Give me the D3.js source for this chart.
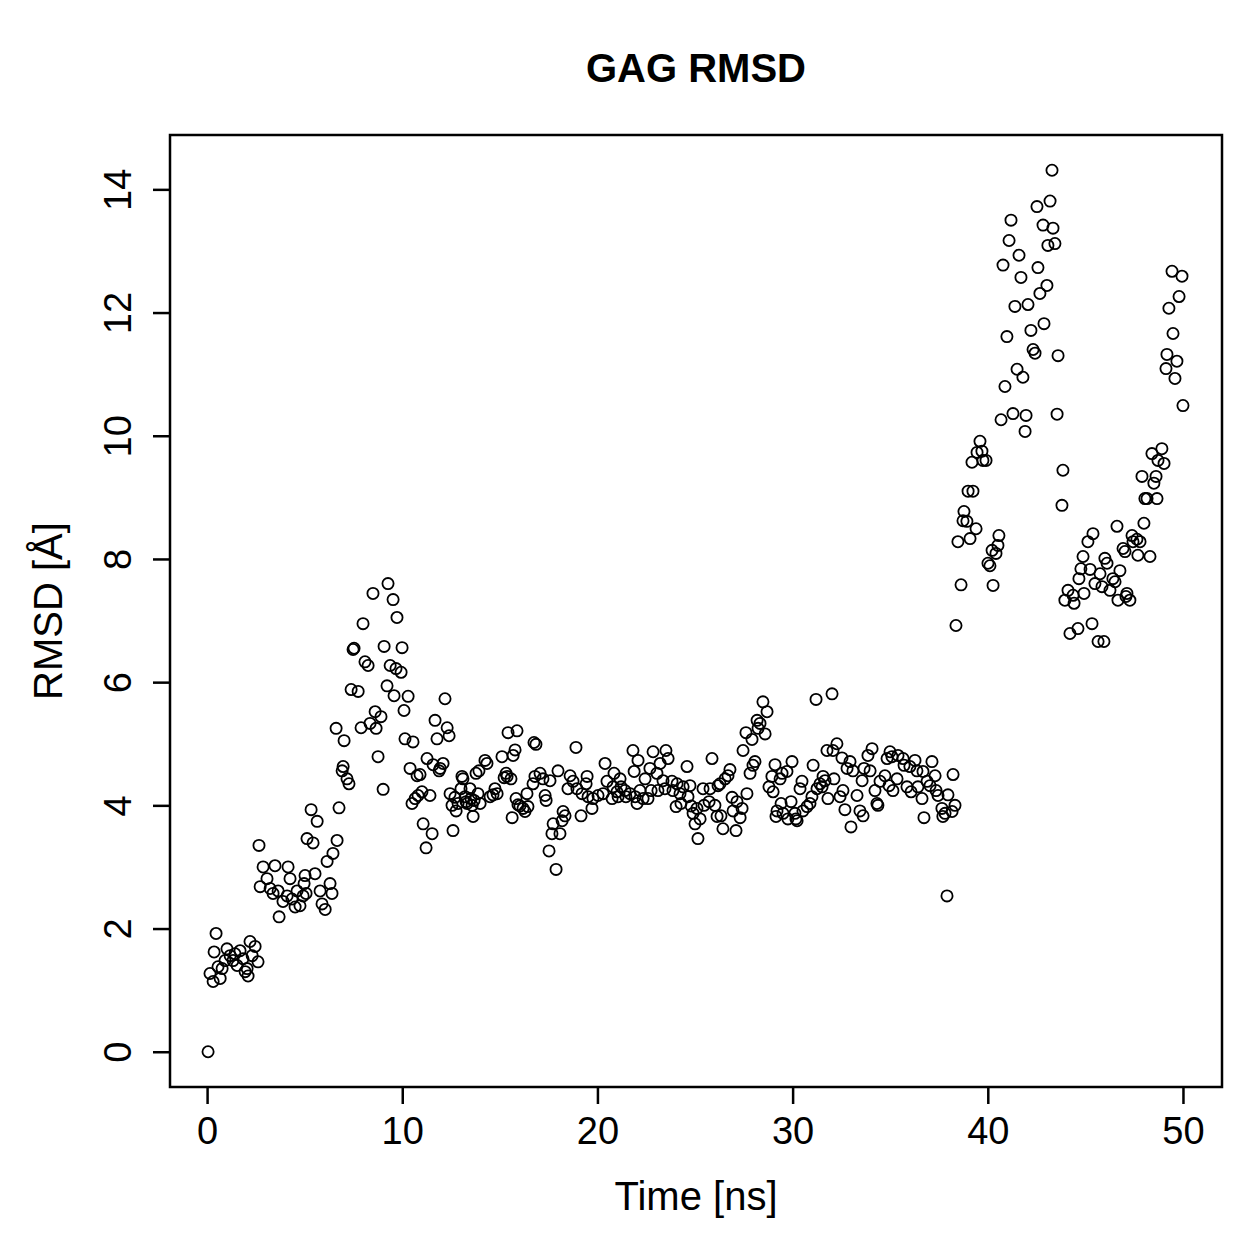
<!DOCTYPE html>
<html>
<head>
<meta charset="utf-8">
<script src="https://cdn.jsdelivr.net/npm/d3@7"></script>
<style>
  body { margin: 0; background: #fff; }
  svg { display: block; font-family: "Liberation Sans", Arial, sans-serif; }
</style>
</head>
<body>
<div id="chart"></div>
<script>
// === Data: [time (ns), RMSD (Å)] ===
const samples = [
  [0.05,0.00],[0.15,1.27],[0.31,1.14],[0.36,1.62],[0.46,1.92],[0.56,1.38],[0.67,1.19],[0.77,1.35],
  [0.92,1.48],[1.02,1.67],[1.18,1.56],[1.33,1.48],[1.43,1.59],[1.54,1.40],[1.69,1.64],[1.84,1.51],
  [1.95,1.30],[2.05,1.35],[2.10,1.23],[2.20,1.79],[2.31,1.56],[2.46,1.71],[2.61,1.46],
  [2.66,3.35],[2.72,2.68],[2.87,3.00],[3.07,2.81],[3.23,2.65],[3.38,2.57],[3.48,3.02],[3.64,2.61],
  [3.69,2.19],[3.89,2.44],[4.10,2.53],[4.15,3.00],[4.25,2.81],[4.35,2.48],[4.51,2.35],[4.61,2.61],
  [4.76,2.37],[4.92,2.53],[4.97,2.73],[5.02,2.86],[5.07,2.57],[5.12,3.46],[5.33,3.93],[5.43,3.39],
  [5.53,2.89],[5.64,3.74],[5.79,2.61],[5.89,2.40],[6.05,2.31],[6.15,3.09],[6.30,2.73],[6.40,2.57],
  [6.45,3.22],[6.61,5.25],[6.66,3.43],[6.76,3.96],[6.92,4.56],[6.97,4.63],[7.02,5.05],[7.17,4.43],
  [7.27,4.35],[7.38,5.88],[7.48,6.53],[7.53,6.55],[7.74,5.85],[7.89,5.26],[7.99,6.95],[8.09,6.33],
  [8.25,6.27],[8.35,5.33],[8.50,7.44],[8.61,5.52],[8.66,5.25],[8.76,4.79],[8.91,5.44],[9.02,4.26],
  [9.07,6.58],[9.22,5.94],[9.27,7.60],[9.38,6.27],[9.53,7.34],[9.58,5.78],[9.68,6.22],[9.73,7.05],
  [9.94,6.16],[9.99,6.56],[10.09,5.54],[10.14,5.08],[10.30,5.77],[10.40,4.60],[10.50,4.03],[10.55,5.03],
  [10.66,4.11],[10.76,4.48],[10.81,4.16],[10.91,4.50],[11.01,4.22],[11.07,3.70],[11.22,3.31],[11.27,4.76],
  [11.42,4.16],[11.53,3.54],[11.58,4.66],[11.68,5.38],[11.78,5.08],[11.89,4.56],[11.94,4.60],[12.09,4.68],
  [12.19,5.73],[12.30,5.26],[12.40,5.13],[12.45,4.19],[12.55,4.00],[12.60,3.59],[12.70,4.13],[12.76,3.91],
  [12.86,4.03],[13.01,4.27],[13.06,4.47],[13.11,4.43],[13.22,4.14],[13.27,4.06],[13.32,4.03],[13.47,4.27],
  [13.52,4.11],[13.58,4.00],[13.63,3.82],[13.68,4.08],[13.78,4.52],[13.88,4.19],[13.93,4.56],[13.99,4.03],
  [14.24,4.73],[14.34,4.68],[14.50,4.14],[14.65,4.17],[14.75,4.27],[14.86,4.19],[15.11,4.79],[15.22,4.45],
  [15.32,4.52],[15.37,4.47],[15.42,5.18],[15.57,4.43],[15.63,3.80],[15.68,4.81],[15.78,4.90],[15.83,4.11],
  [15.88,5.21],[15.93,4.01],[16.03,3.99],[16.19,3.95],[16.29,3.90],[16.39,4.19],[16.44,3.98],[16.70,4.35],
  [16.75,5.02],[16.80,4.47],[16.85,4.99],[17.06,4.52],[17.21,4.43],[17.32,4.16],[17.37,4.08],[17.52,3.26],
  [17.57,4.40],[17.67,3.54],[17.73,3.70],[17.88,2.96],[17.98,4.56],[18.08,3.54],[18.19,3.75],[18.24,3.90],
  [18.34,3.83],[18.49,4.27],[18.60,4.48],[18.75,4.39],[18.90,4.94],[18.95,4.27],[19.16,3.83],[19.21,4.19],
  [19.42,4.35],[19.47,4.47],[19.52,4.14],[19.72,3.95],[19.77,4.11],[20.03,4.16],[20.29,4.19],[20.39,4.68],
  [20.49,4.39],[20.75,4.11],[20.80,4.30],[20.85,4.52],[21.00,4.22],[21.06,4.14],[21.16,4.43],[21.21,4.30],
  [21.41,4.24],[21.46,4.14],[21.67,4.19],[21.82,4.89],[21.88,4.55],[21.93,4.14],[22.03,4.03],[22.08,4.73],
  [22.18,4.24],[22.34,4.11],[22.44,4.43],[22.59,4.11],[22.69,4.60],[22.75,4.24],[22.85,4.87],[23.05,4.52],
  [23.10,4.24],[23.21,4.68],[23.36,4.40],[23.46,4.27],[23.51,4.89],[23.62,4.76],[23.82,4.39],[23.87,4.24],
  [24.03,3.98],[24.08,4.35],[24.23,4.19],[24.28,4.03],[24.39,4.30],[24.59,4.63],[24.64,4.14],[24.74,4.32],
  [24.80,3.99],[24.90,3.87],[25.00,3.70],[25.10,3.95],[25.15,3.46],[25.26,3.78],[25.41,4.27],[25.46,4.00],
  [25.72,4.06],[25.77,4.27],[25.87,4.76],[26.02,4.00],[26.13,3.82],[26.18,4.32],[26.28,4.35],[26.33,3.83],
  [26.43,3.62],[26.54,4.43],[26.69,4.48],[26.79,4.58],[26.90,4.13],[26.95,3.91],[27.10,3.59],[27.15,4.06],
  [27.31,3.80],[27.41,3.95],[27.46,4.89],[27.61,5.18],[27.66,4.19],[27.82,4.52],[27.92,5.07],[27.97,4.65],
  [28.07,4.71],[28.18,5.38],[28.23,5.25],[28.33,5.33],[28.48,5.68],[28.59,5.16],[28.69,5.52],[28.79,4.30],
  [28.94,4.47],[29.00,4.22],[29.10,4.66],[29.15,3.82],[29.20,3.91],[29.36,4.43],[29.41,4.03],[29.46,4.52],
  [29.51,3.87],[29.71,4.55],[29.76,3.78],[29.92,4.06],[29.97,4.71],[30.12,3.87],[30.17,3.78],[30.23,3.75],
  [30.38,4.27],[30.48,4.39],[30.53,3.91],[30.74,3.98],[30.89,4.03],[30.99,4.14],[31.05,4.65],[31.20,5.72],
  [31.25,4.27],[31.40,4.35],[31.51,4.30],[31.56,4.47],[31.66,4.40],[31.76,4.89],[31.81,4.11],[32.02,5.81],
  [32.07,4.89],[32.12,4.43],[32.27,5.00],[32.43,4.14],[32.53,4.77],[32.58,4.24],[32.68,3.93],[32.79,4.60],
  [32.94,4.71],[32.99,3.65],[33.09,4.56],[33.30,4.16],[33.45,3.91],[33.56,4.40],[33.61,3.83],[33.66,4.60],
  [33.86,4.81],[33.97,4.56],[34.07,4.92],[34.22,4.24],[34.32,4.03],[34.37,4.00],[34.48,4.39],[34.73,4.48],
  [34.84,4.76],[34.94,4.32],[34.99,4.87],[35.09,4.79],[35.14,4.24],[35.35,4.43],[35.40,4.81],[35.66,4.76],
  [35.71,4.65],[35.86,4.30],[36.01,4.63],[36.07,4.22],[36.27,4.73],[36.37,4.56],[36.42,4.30],[36.63,4.11],
  [36.68,4.55],[36.73,3.80],[36.89,4.39],[37.04,4.32],[37.14,4.71],[37.30,4.48],[37.35,4.24],[37.45,4.16],
  [37.65,3.95],[37.70,3.82],[37.81,3.87],[37.91,2.53],[37.96,4.17],[38.17,3.90],[38.22,4.50],[38.32,4.00],
  [38.37,6.92],[38.47,8.28],[38.63,7.58],[38.73,8.62],[38.78,8.77],[38.93,8.61],[38.99,9.10],[39.09,8.33],
  [39.19,9.57],[39.24,9.10],[39.40,8.49],[39.45,9.73],[39.60,9.91],[39.70,9.75],[39.75,9.60],[39.91,9.60],
  [40.01,7.93],[40.11,7.89],[40.22,8.14],[40.27,7.57],[40.42,8.09],[40.52,8.22],[40.57,8.38],[40.68,10.26],
  [40.78,12.77],[40.88,10.80],[40.98,11.61],[41.09,13.17],[41.19,13.50],[41.29,10.36],[41.39,12.10],[41.50,11.08],
  [41.60,12.93],[41.70,12.57],[41.80,10.95],[41.91,10.07],[41.96,10.33],[42.06,12.13],[42.21,11.71],[42.32,11.40],
  [42.42,11.34],[42.52,13.72],[42.57,12.73],[42.67,12.31],[42.83,13.42],[42.88,11.82],[43.03,12.44],[43.08,13.09],
  [43.19,13.81],[43.29,14.31],[43.34,13.37],[43.44,13.12],[43.55,10.35],[43.60,11.30],[43.80,8.87],[43.85,9.44],
  [43.95,7.33],[44.11,7.49],[44.21,6.79],[44.37,7.41],[44.42,7.28],[44.62,6.87],[44.67,7.68],[44.77,7.84],
  [44.88,8.04],[44.93,7.44],[45.13,8.28],[45.24,7.83],[45.34,6.95],[45.39,8.41],[45.49,7.60],[45.65,6.66],
  [45.75,7.76],[45.85,7.55],[45.95,6.66],[46.00,8.01],[46.11,7.93],[46.26,7.49],[46.41,7.68],[46.52,7.63],
  [46.62,8.53],[46.67,7.33],[46.77,7.81],[46.93,8.17],[47.03,8.12],[47.08,7.39],[47.13,7.44],[47.28,7.33],
  [47.39,8.38],[47.44,8.28],[47.64,8.32],[47.69,8.06],[47.80,8.28],[47.90,9.34],[48.00,8.58],[48.05,8.98],
  [48.16,8.98],[48.31,8.04],[48.41,9.71],[48.51,9.23],[48.62,9.34],[48.67,8.98],[48.72,9.60],[48.92,9.79],
  [49.03,9.55],[49.13,11.09],[49.18,11.32],[49.28,12.07],[49.44,12.67],[49.49,11.66],[49.59,10.93],[49.69,11.21],
  [49.80,12.26],[49.95,12.59],[50.00,10.49]
];

const xTicks = [0, 10, 20, 30, 40, 50];
const yTicks = [0, 2, 4, 6, 8, 10, 12, 14];

const width = 1259;
const height = 1259;
const margin = { top: 135, right: 37, bottom: 172, left: 170 };

const svg = d3.select("#chart")
  .append("svg")
  .attr("width", width)
  .attr("height", height);

// R-style 4% padding on the y axis
const yExt = d3.extent(samples, d => d[1]);
const yPad = (yExt[1] - yExt[0]) * 0.04;

const x = d3.scaleLinear()
  .domain([-1.9, 52])
  .range([margin.left, width - margin.right]);

const y = d3.scaleLinear()
  .domain([yExt[0] - yPad, yExt[1] + yPad])
  .range([height - margin.bottom, margin.top]);

// points
svg.append("g")
  .attr("fill", "none")
  .attr("stroke", "#000")
  .attr("stroke-width", 1.8)
  .selectAll("circle")
  .data(samples)
  .join("circle")
  .attr("cx", d => x(d[0]))
  .attr("cy", d => y(d[1]))
  .attr("r", 5.6);

// X axis
const xAxis = svg.append("g")
  .attr("transform", `translate(0,${height - margin.bottom})`)
  .call(d3.axisBottom(x).tickValues(xTicks).tickSize(17).tickPadding(13).tickSizeOuter(0));
xAxis.select(".domain").remove();
xAxis.selectAll("line").attr("stroke-width", 2.5);
xAxis.selectAll("text")
  .attr("font-size", 38)
  .attr("font-family", "Liberation Sans, Arial, sans-serif")
  .attr("fill", "#000");

// Y axis
const yAxis = svg.append("g")
  .attr("transform", `translate(${margin.left},0)`)
  .call(d3.axisLeft(y).tickValues(yTicks).tickSize(17).tickSizeOuter(0));
yAxis.select(".domain").remove();
yAxis.selectAll("line").attr("stroke-width", 2.5);
yAxis.selectAll("text")
  .attr("font-size", 38)
  .attr("font-family", "Liberation Sans, Arial, sans-serif")
  .attr("fill", "#000")
  .attr("text-anchor", "middle")
  .attr("dy", 0)
  .attr("x", 0)
  .attr("y", 0)
  .attr("transform", "translate(-52,0) rotate(-90)")
  .attr("dominant-baseline", "central");

// plot box
svg.append("rect")
  .attr("x", margin.left)
  .attr("y", margin.top)
  .attr("width", width - margin.left - margin.right)
  .attr("height", height - margin.top - margin.bottom)
  .attr("fill", "none")
  .attr("stroke", "#000")
  .attr("stroke-width", 2.5);

// title + axis labels
const midX = (margin.left + width - margin.right) / 2;
const midY = (margin.top + height - margin.bottom) / 2;

svg.append("text")
  .attr("x", midX)
  .attr("y", 82)
  .attr("text-anchor", "middle")
  .attr("font-size", 40)
  .attr("font-weight", "bold")
  .text("GAG RMSD");

svg.append("text")
  .attr("x", midX)
  .attr("y", 1210)
  .attr("text-anchor", "middle")
  .attr("font-size", 40)
  .text("Time [ns]");

svg.append("text")
  .attr("transform", `translate(62,${midY}) rotate(-90)`)
  .attr("text-anchor", "middle")
  .attr("font-size", 40)
  .text("RMSD [Å]");
</script>
</body>
</html>
